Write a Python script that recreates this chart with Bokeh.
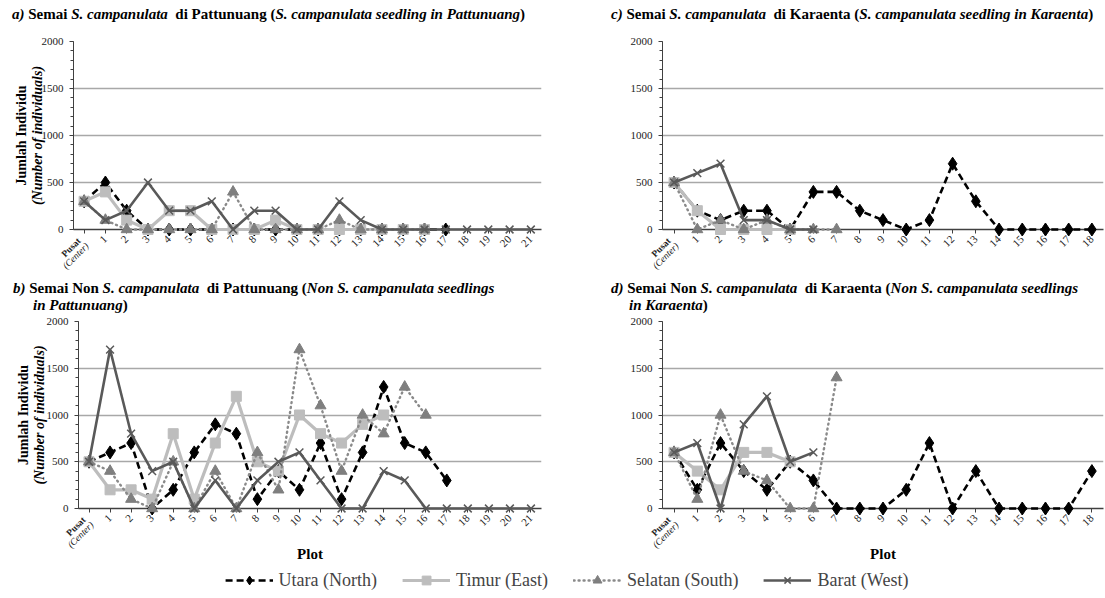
import math

from bokeh.core.properties import value
from bokeh.embed import file_html
from bokeh.layouts import column, row
from bokeh.models import (ColumnDataSource, Div, FixedTicker, Legend,
                          LegendItem, Range1d)
from bokeh.plotting import figure
from bokeh.resources import INLINE

SERIF = "Liberation Serif"

# ---- plot labels (x categories) -------------------------------------------
pattunuang_plots = ["Pusat (Center)"] + [str(i) for i in range(1, 22)]
karaenta_plots = ["Pusat (Center)"] + [str(i) for i in range(1, 19)]

# ---- a) S. campanulata seedlings, Pattunuang ------------------------------
a_utara = [300, 500, 200, 0, 0, 0, 0, 0, 0, 0, 0, 0, 0, 0, 0, 0, 0, 0]
a_timur = [300, 400, 100, 0, 200, 200, 0, 0, 0, 100, 0, 0, 0, 0, 0, 0, 0]
a_selatan = [300, 100, 0, 0, 0, 0, 0, 400, 0, 0, 0, 0, 100, 0, 0, 0, 0]
a_barat = [300, 100, 200, 500, 200, 200, 300, 0, 200, 200, 0, 0, 300, 100,
           0, 0, 0, 0, 0, 0, 0, 0]

# ---- b) non S. campanulata seedlings, Pattunuang --------------------------
b_utara = [500, 600, 700, 0, 200, 600, 900, 800, 100, 400, 200, 700, 100,
           600, 1300, 700, 600, 300]
b_timur = [500, 200, 200, 100, 800, 100, 700, 1200, 500, 400, 1000, 800,
           700, 900, 1000]
b_selatan = [500, 400, 100, 0, 500, 0, 400, 0, 600, 200, 1700, 1100, 400,
             1000, 800, 1300, 1000]
b_barat = [500, 1700, 800, 400, 500, 0, 300, 0, 300, 500, 600, 300, 0, 0,
           400, 300, 0, 0, 0, 0, 0, 0]

# ---- c) S. campanulata seedlings, Karaenta --------------------------------
c_utara = [500, 200, 100, 200, 200, 0, 400, 400, 200, 100, 0, 100, 700, 300,
           0, 0, 0, 0, 0]
c_timur = [500, 200, 0, 0, 0, 0]
c_selatan = [500, 0, 100, 0, 100, 0, 0, 0]
c_barat = [500, 600, 700, 100, 100, 0, 0]

# ---- d) non S. campanulata seedlings, Karaenta ----------------------------
d_utara = [600, 200, 700, 400, 200, 500, 300, 0, 0, 0, 200, 700, 0, 400, 0,
           0, 0, 0, 400]
d_timur = [600, 400, 200, 600, 600, 500]
d_selatan = [600, 100, 1000, 400, 300, 0, 0, 1400]
d_barat = [600, 700, 0, 900, 1200, 500, 600]

series_names = ["Utara (North)", "Timur (East)", "Selatan (South)", "Barat (West)"]

STYLE = {
    "Utara (North)": dict(line_color="#000000", line_width=2.6, line_dash="7 4",
                          marker="diamond", size=13, fill="#000000", edge="#000000"),
    "Timur (East)": dict(line_color="#bdbdbd", line_width=3.2, line_dash="solid",
                         marker="square", size=10, fill="#bdbdbd", edge="#bdbdbd"),
    "Selatan (South)": dict(line_color="#8a8a8a", line_width=2.4, line_dash="1 4",
                            marker="triangle", size=11, fill="#7f7f7f", edge="#7f7f7f"),
    "Barat (West)": dict(line_color="#595959", line_width=2.6, line_dash="solid",
                         marker="x", size=11, fill="#595959", edge="#595959"),
}

TICK_SIZE = "11px"
PUSAT_SIZE = "9.5px"


def add_series(p, name, xs, ys):
    st = STYLE[name]
    src = ColumnDataSource(dict(x=xs, y=ys))
    ln = p.line("x", "y", source=src, line_color=st["line_color"],
                line_width=st["line_width"], line_dash=st["line_dash"],
                line_cap="round" if name.startswith("Selatan") else "butt",
                level="overlay")
    mk = p.scatter("x", "y", source=src, marker=st["marker"], size=st["size"],
                   fill_color=st["fill"], line_color=st["edge"],
                   line_width=1.5 if st["marker"] == "x" else 1,
                   level="overlay")
    return ln, mk


def add_text(p, x, y, text, dx=0, dy=0, angle=0.0, size="14px", style="bold",
             align="center", color="#000000"):
    p.text(x=[x], y=[y], text=[text], x_offset=dx, y_offset=dy, angle=angle,
           text_font=value(SERIF), text_font_style=style, text_font_size=size,
           text_align=align, text_baseline="middle", text_color=color,
           level="overlay")


def make_panel(labels, data, w, h, left, right, top, bottom,
               ytitle_offsets=None, xtitle=False):
    n = len(labels)
    p = figure(width=w, height=h, x_range=Range1d(-0.5, n - 0.5),
               y_range=Range1d(0, 2000), min_border_left=left,
               min_border_right=right, min_border_top=top,
               min_border_bottom=bottom, toolbar_location=None,
               output_backend="svg", margin=(0, 0, 0, 0))
    p.outline_line_color = None

    # grid: horizontal lines every 500
    p.xgrid.visible = False
    p.ygrid.ticker = FixedTicker(ticks=[500, 1000, 1500, 2000])
    p.ygrid.grid_line_color = "#a8a8a8"
    p.ygrid.grid_line_width = 1.3

    # y axis
    ya = p.yaxis[0]
    ya.ticker = FixedTicker(ticks=[0, 500, 1000, 1500, 2000],
                            minor_ticks=list(range(0, 2001, 100)))
    ya.axis_line_color = "#404040"
    ya.major_tick_line_color = "#404040"
    ya.minor_tick_line_color = "#404040"
    ya.major_tick_out = 4
    ya.major_tick_in = 0
    ya.minor_tick_out = 3
    ya.minor_tick_in = 0
    ya.major_label_text_font = SERIF
    ya.major_label_text_font_size = "11px"
    ya.major_label_text_color = "#222222"
    ya.major_label_standoff = 6

    # x axis: category positions, numbers rotated
    xa = p.xaxis[0]
    xa.ticker = FixedTicker(ticks=list(range(n)))
    xa.major_label_overrides = {i: labels[i] for i in range(1, n)} | {0: ""}
    xa.major_label_orientation = math.pi / 4
    xa.axis_line_color = "#404040"
    xa.axis_line_width = 1.6
    xa.major_tick_line_color = "#404040"
    xa.major_tick_out = 4
    xa.major_tick_in = 0
    xa.minor_tick_line_color = None
    xa.major_label_text_font = SERIF
    xa.major_label_text_font_size = TICK_SIZE
    xa.major_label_text_color = "#222222"
    xa.major_label_standoff = 4

    # first category label in two styled lines
    pusat, center = labels[0].split(" ")
    add_text(p, 0, 0, pusat, dx=-5, dy=10, angle=math.pi / 4, size=PUSAT_SIZE,
             align="right", color="#222222")
    add_text(p, 0, 0, center, dx=3, dy=15, angle=math.pi / 4, size=PUSAT_SIZE,
             style="italic", align="right", color="#222222")

    if ytitle_offsets:
        o1, o2 = ytitle_offsets
        add_text(p, -0.5, 1000, "Jumlah Individu", dx=o1, angle=math.pi / 2)
        add_text(p, -0.5, 1000, "(Number of individuals)", dx=o2,
                 angle=math.pi / 2, style="bold italic")
    if xtitle:
        add_text(p, (n - 1) / 2, 0, "Plot", dy=45, size="15px")

    for name, values in zip(series_names, data):
        add_series(p, name, list(range(len(values))), values)
    return p


FONT_CSS = "'Liberation Serif', 'Times New Roman', serif"


def title_div(lines, w, h, pad_top):
    body = "".join(
        f'<div style="padding-left:{indent}px;white-space:nowrap;">{html}</div>'
        for indent, html in lines)
    html = (f'<div style="padding-top:{pad_top}px;font-family:{FONT_CSS};'
            f'font-weight:bold;font-size:15px;line-height:17px;color:#000;">'
            f'{body}</div>')
    return Div(text=html, width=w, height=h, margin=(0, 0, 0, 0),
               styles={"font-family": FONT_CSS, "font-size": "15px"})


SC = "<i>S. campanulata</i>"
title_a = title_div([(12, f"<i>a)</i> Semai {SC}&nbsp; di Pattunuang "
                          "(<i>S. campanulata seedling in Pattunuang</i>)")],
                    560, 30, 6)
title_c = title_div([(51, f"<i>c)</i> Semai {SC}&nbsp; di Karaenta "
                          "(<i>S. campanulata seedling in Karaenta</i>)")],
                    545, 30, 6)
title_b = title_div([(13, f"<i>b)</i> Semai Non {SC}&nbsp; di Pattunuang "
                          "(<i>Non S. campanulata seedlings</i>"),
                     (33, "<i>in Pattunuang</i>)")], 560, 36, 0)
title_d = title_div([(51, f"<i>d)</i> Semai Non {SC}&nbsp; di Karaenta "
                          "(<i>Non S. campanulata seedlings</i>"),
                     (69, "<i>in Karaenta</i>)")], 545, 36, 0)

pa = make_panel(pattunuang_plots, [a_utara, a_timur, a_selatan, a_barat],
                560, 250, 73, 19, 11, 51, ytitle_offsets=(-52, -36))
pc = make_panel(karaenta_plots, [c_utara, c_timur, c_selatan, c_barat],
                545, 250, 102, 2, 11, 51)
pb = make_panel(pattunuang_plots, [b_utara, b_timur, b_selatan, b_barat],
                560, 246, 78, 19, 5, 54, ytitle_offsets=(-55, -39), xtitle=True)
pd = make_panel(karaenta_plots, [d_utara, d_timur, d_selatan, d_barat],
                545, 246, 102, 2, 5, 54, xtitle=True)

# ---- shared legend (key glyphs only, no visible data) ---------------------
leg = figure(width=1105, height=36, toolbar_location=None, output_backend="svg",
             min_border_left=28, min_border_right=0, min_border_top=0,
             min_border_bottom=0, x_range=Range1d(0, 1), y_range=Range1d(0, 1),
             margin=(0, 0, 0, 0))
leg.axis.visible = False
leg.grid.visible = False
leg.outline_line_color = None
items = []
for name in series_names:
    ln, mk = add_series(leg, name, [float("nan")], [float("nan")])
    items.append(LegendItem(label=name, renderers=[ln, mk]))
legend = Legend(items=items, orientation="horizontal", location="center",
                glyph_width=48, glyph_height=22, label_text_font=SERIF,
                label_text_font_size="18px", label_standoff=6, spacing=25,
                padding=0, margin=0, border_line_color=None,
                background_fill_alpha=0)
leg.add_layout(legend, "center")

page = column(row(title_a, title_c, spacing=0),
              row(pa, pc, spacing=0),
              row(title_b, title_d, spacing=0),
              row(pb, pd, spacing=0),
              leg, spacing=0)

open("out.html", "w").write(file_html(page, INLINE))
